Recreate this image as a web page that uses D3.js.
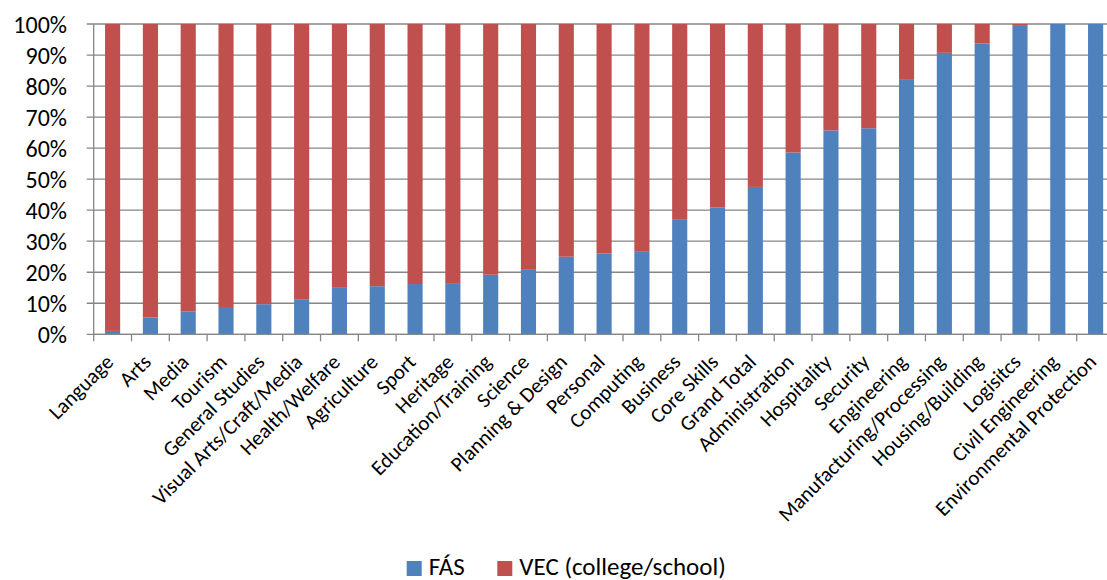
<!DOCTYPE html>
<html><head><meta charset="utf-8">
<script src="https://cdn.jsdelivr.net/npm/d3@7"></script>
<style>
html,body{margin:0;padding:0;background:#fff;}
svg{display:block;}
text{font-family:Carlito, Lato, "Liberation Sans", sans-serif; fill:#000;}
</style></head>
<body>
<svg id="chart" width="1107" height="580"></svg>
<script>
const categories = ["Language","Arts","Media","Tourism","General Studies","Visual Arts/Craft/Media","Health/Welfare","Agriculture","Sport","Heritage","Education/Training","Science","Planning & Design","Personal","Computing","Business","Core Skills","Grand Total","Administration","Hospitality","Security","Engineering","Manufacturing/Processing","Housing/Building","Logisitcs","Civil Engineering","Environmental Protection"];
const fasValues = [1.1,5.4,7.3,8.5,9.7,11.3,15.2,15.5,16.2,16.5,19.2,21.0,25.0,26.0,26.8,36.9,40.9,47.5,58.6,65.7,66.4,82.0,90.7,93.7,99.4,100,100];
const vecValues = fasValues.map(v => 100 - v);
const seriesNames = ["FÁS","VEC (college/school)"];
const seriesColors = ["#4F81BD","#C0504D"];
const yTicks = [0,10,20,30,40,50,60,70,80,90,100];

const svg = d3.select("#chart");
const mLeft = 93.7, mRight = 1114.5, mTop = 24, mBottom = 334.3;

const x = d3.scaleBand().domain(categories).range([mLeft, mRight]).paddingInner(0.6).paddingOuter(0.3);
const y = d3.scaleLinear().domain([0,100]).range([mBottom, mTop]);

// gridlines
svg.append("g").selectAll("line").data(yTicks).join("line")
  .attr("x1", mLeft - 7).attr("x2", mRight)
  .attr("y1", d => y(d)).attr("y2", d => y(d))
  .attr("stroke", "#868686").attr("stroke-width", 1.3);

// y axis line
svg.append("line").attr("x1", mLeft).attr("x2", mLeft).attr("y1", mTop).attr("y2", mBottom + 0.5)
  .attr("stroke", "#868686").attr("stroke-width", 1.3);

// y labels
svg.append("g").selectAll("text").data(yTicks).join("text")
  .attr("x", 67).attr("y", d => y(d))
  .attr("text-anchor", "end").attr("dominant-baseline", "central")
  .style("font-size", "24px")
  .text(d => d + "%");

// stacked bars
const stackData = categories.map((c,i) => ({cat:c, fas:fasValues[i], vec:vecValues[i]}));
const stack = d3.stack().keys(["fas","vec"])(stackData);
svg.append("g").selectAll("g").data(stack).join("g")
  .attr("fill", (d,i) => seriesColors[i])
  .selectAll("rect").data(d => d).join("rect")
  .attr("x", d => x(d.data.cat))
  .attr("width", x.bandwidth())
  .attr("y", d => y(d[1]))
  .attr("height", d => Math.max(0, y(d[0]) - y(d[1])));

// x axis ticks at boundaries
const step = x.step();
const boundaries = d3.range(categories.length + 1).map(i => mLeft + i * step);
svg.append("g").selectAll("line").data(boundaries).join("line")
  .attr("x1", d => d).attr("x2", d => d).attr("y1", mBottom).attr("y2", mBottom + 7)
  .attr("stroke", "#868686").attr("stroke-width", 1.3);
svg.append("line").attr("x1", mLeft).attr("x2", mRight).attr("y1", mBottom).attr("y2", mBottom)
  .attr("stroke", "#868686").attr("stroke-width", 1.3);

// category labels
svg.append("g").selectAll("text").data(categories).join("text")
  .attr("transform", d => `translate(${x(d) + x.bandwidth()/2 + 2},${mBottom + 29}) rotate(-45)`)
  .attr("text-anchor", "end")
  .style("font-size", "21px")
  .text(d => d);

// legend
const legendX = [406.7, 497.3];
const lg = svg.append("g").selectAll("g").data(seriesNames).join("g")
  .attr("transform", (d,i) => `translate(${legendX[i]},561)`);
lg.append("rect").attr("width", 15).attr("height", 15).attr("fill", (d,i) => seriesColors[i]);
lg.append("text").attr("x", 22).attr("y", 13.5).style("font-size", "25px").text(d => d);
</script>
</body></html>
